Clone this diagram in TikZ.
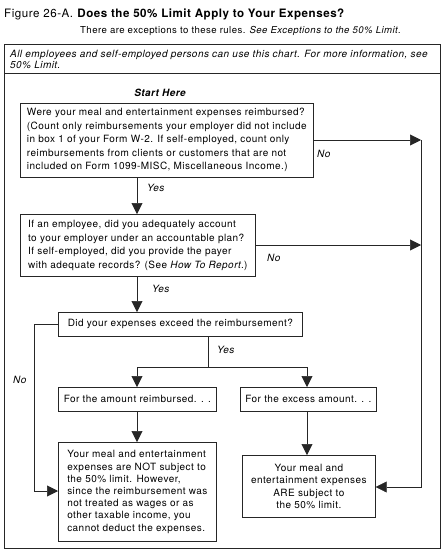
\documentclass[tikz,border=0pt]{standalone}
\usepackage{fontspec}
\setmainfont{TeX Gyre Heros}[LetterSpace=4.5]
\usetikzlibrary{arrows.meta}
\tikzset{
  box/.style={draw=black!85, line width=0.7pt, anchor=north west, inner xsep=4pt, inner ysep=0pt,
     font=\fontsize{10}{13.5}\selectfont},
  conn/.style={line width=0.6pt, draw=black!85},
  arr/.style={conn, -{Triangle[length=11pt,width=11pt]}},
  lbl/.style={font=\fontsize{10}{11}\selectfont\itshape, anchor=base west, inner sep=0pt},
}
\begin{document}
\begin{tikzpicture}[x=1pt,y=-1pt]
\useasboundingbox (0,0) rectangle (444,552);
% header
\node[anchor=base west, inner sep=0pt, font=\fontsize{11.6}{13}\selectfont] (title) at (4,17)
  {Figure 26-A. \textbf{Does the 50\% Limit Apply to Your Expenses?}};
\node[anchor=base west, inner sep=0pt, font=\fontsize{9.6}{11}\selectfont] (sub) at (80,33)
  {There are exceptions to these rules. \textit{See Exceptions to the 50\% Limit.}};
% frame
\draw[conn] (4,44) rectangle (440,548);
\draw[conn] (4,73) -- (440,73);
\node[anchor=base west, inner sep=0pt, align=left, font=\fontsize{10}{11}\selectfont\itshape] (note) at (10,68)
  {All employees and self-employed persons can use this chart. For more information, see\\50\% Limit.};
\node[anchor=base, inner sep=0pt, font=\fontsize{10}{11}\selectfont\bfseries\itshape] (start) at (160,96) {Start Here};
% boxes
\node[box, minimum width=293pt, minimum height=74pt, align=left] (b1) at (20,103)
  {Were your meal and entertainment expenses reimbursed?\\
   (Count only reimbursements your employer did not include\\
   in box 1 of your Form W-2. If self-employed, count only\\
   reimbursements from clients or customers that are not\\
   included on Form 1099-MISC, Miscellaneous Income.)};
\node[box, minimum width=235pt, minimum height=62pt, align=left] (b2) at (20,214)
  {If an employee, did you adequately account\\
   to your employer under an accountable plan?\\
   If self-employed, did you provide the payer\\
   with adequate records? (See \textit{How To Report}.)};
\node[box, minimum width=244pt, minimum height=24pt, align=left] (b3) at (58,312)
  {Did your expenses exceed the reimbursement?};
\node[box, minimum width=158pt, minimum height=24pt, align=left] (b4) at (58,387)
  {For the amount reimbursed. . .};
\node[box, minimum width=136pt, minimum height=24pt, align=left] (b5) at (240,387)
  {For the excess amount. . .};
\node[box, minimum width=158pt, minimum height=99pt, align=left, font=\fontsize{10}{12.2}\selectfont] (notsub) at (58,442)
  {Your meal and entertainment\\
   expenses are NOT subject to\\
   the 50\% limit. However,\\
   since the reimbursement was\\
   not treated as wages or as\\
   other taxable income, you\\
   cannot deduct the expenses.};
\node[box, minimum width=133pt, minimum height=62pt, align=center, font=\fontsize{10}{12.3}\selectfont] (aresub) at (242,455)
  {Your meal and\\
   entertainment expenses\\
   ARE subject to\\
   the 50\% limit.};
% connector points
\coordinate (r1) at (421,140);
\coordinate (r2) at (421,245);
\coordinate (r3) at (421,487);
\coordinate (y3) at (208,367);
\coordinate (l1) at (34,324);
\coordinate (l2) at (34,491);
% connectors
\draw[arr] (b1.south -| 137,0) -- (b2.north -| 137,0);
\draw[arr] (b1.east |- r1) -- (r1);
\draw[arr] (b2.east |- r2) -- (r2);
\draw[arr] (r1) -- (r3) -- (aresub.east |- r3);
\draw[arr] (b2.south -| 137,0) -- (b3.north -| 137,0);
\draw[conn] (b3.south -| y3) -- (y3);
\draw[conn] (y3 -| 137,0) -- (y3 -| 307,0);
\draw[arr] (y3 -| 137,0) -- (b4.north -| 137,0);
\draw[arr] (y3 -| 307,0) -- (b5.north -| 307,0);
\draw[arr] (b4.south -| 137,0) -- (notsub.north -| 137,0);
\draw[arr] (b5.south -| 307,0) -- (aresub.north -| 307,0);
\draw[arr] (b3.west |- l1) -- (l1) -- (l2) -- (notsub.west |- l2);
% labels
\node[lbl] (no1) at (317,157) {No};
\node[lbl] (yes1) at (147,191) {Yes};
\node[lbl] (no2) at (267,261) {No};
\node[lbl] (yes2) at (152,292) {Yes};
\node[lbl] (yes3) at (217,353) {Yes};
\node[lbl] (no3) at (13,383) {No};
\end{tikzpicture}
\end{document}
